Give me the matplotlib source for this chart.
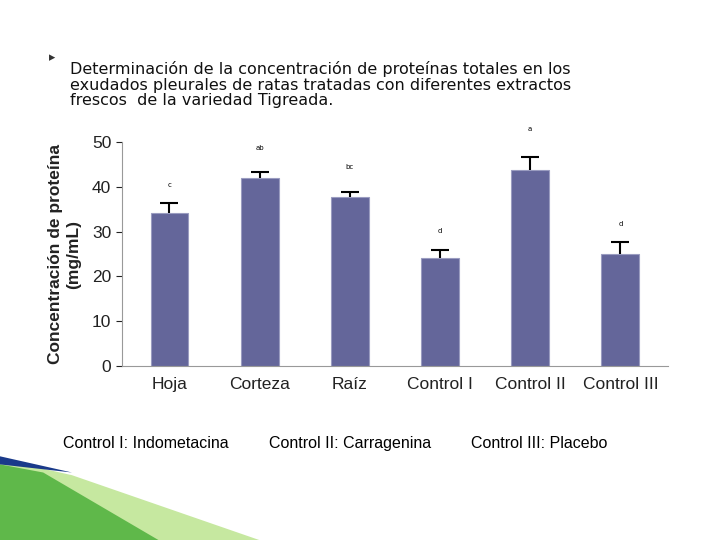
import matplotlib
matplotlib.use('Agg')
import matplotlib.pyplot as plt
from matplotlib.patches import Polygon

categories = ['Hoja', 'Corteza', 'Raíz', 'Control I', 'Control II', 'Control III']
means = [34.2, 42.0, 37.7, 24.1, 43.8, 25.0]
errors = [2.2, 1.3, 1.1, 1.8, 2.9, 2.7]
letters = ['c', 'ab', 'bc', 'd', 'a', 'd']
letter_y = [40.4, 48.7, 44.4, 30.1, 52.9, 31.7]
y_ticks = [0, 10, 20, 30, 40, 50]

fig = plt.figure(figsize=(7.2, 5.4), dpi=100)
fig.patch.set_facecolor('white')

# title block
fig.text(0.068, 0.893, '\u25b8', fontsize=9, color='#333333', va='center')
fig.text(0.097, 0.805,
         'Determinación de la concentración de proteínas totales en los\n'
         'exudados pleurales de ratas tratadas con diferentes extractos\n'
         'frescos  de la variedad Tigreada.',
         fontsize=11.5, color='#111111', linespacing=1.05, family='DejaVu Sans')

ax = fig.add_axes([0.169, 0.322, 0.759, 0.415])
x = list(range(len(categories)))
ax.bar(x, means, width=0.42, color='#64669A', edgecolor='#9a9cc0', linewidth=0.8)
# upper error bars only
tops = [m + e for m, e in zip(means, errors)]
ax.vlines(x, means, tops, color='black', linewidth=1.5, zorder=3)
ax.hlines(tops, [i - 0.1 for i in x], [i + 0.1 for i in x], color='black',
          linewidth=1.5, zorder=3)
for i, (lab, ly) in enumerate(zip(letters, letter_y)):
    ax.text(i, ly, lab, ha='center', va='center', fontsize=5, clip_on=False)

ax.set_xlim(-0.53, 5.53)
ax.set_ylim(0, 50)
ax.set_yticks(y_ticks)
ax.set_xticks(x)
ax.set_xticklabels(categories, fontsize=12.5, color='#222222', family='Liberation Sans')
for t in ax.get_yticklabels():
    t.set_family('Liberation Sans')
ax.tick_params(axis='y', labelsize=12.5, colors='#222222', direction='out', length=4)
ax.tick_params(axis='x', length=0, pad=8)
for s in ['top', 'right']:
    ax.spines[s].set_visible(False)
ax.spines['left'].set_color('#999999')
ax.spines['bottom'].set_color('#999999')
ax.set_ylabel('Concentración de proteína\n(mg/mL)', fontsize=12.5, family='Liberation Sans',
              fontweight='bold', color='#222222', labelpad=8)

fig.text(0.087, 0.17, 'Control I: Indometacina', fontsize=11.5, family='Liberation Sans')
fig.text(0.373, 0.17, 'Control II: Carragenina', fontsize=11.5, family='Liberation Sans')
fig.text(0.654, 0.17, 'Control III: Placebo', fontsize=11.5, family='Liberation Sans')

# decorative swoosh bottom left
fig.patches.append(Polygon([[0, 0.15], [0.1, 0.12], [0.36, 0.0], [0.2, 0.0], [0, 0.11]],
                           closed=True, transform=fig.transFigure,
                           facecolor='#c6e8a0', edgecolor='none', zorder=0))
fig.patches.append(Polygon([[0, 0.14], [0.06, 0.125], [0.22, 0.0], [0.0, 0.0]],
                           closed=True, transform=fig.transFigure,
                           facecolor='#5fb84a', edgecolor='none', zorder=0))
fig.patches.append(Polygon([[0, 0.155], [0.1, 0.125], [0.0, 0.14]],
                           closed=True, transform=fig.transFigure,
                           facecolor='#1a3a8a', edgecolor='none', zorder=0))

fig.savefig('out.png', dpi=100)
